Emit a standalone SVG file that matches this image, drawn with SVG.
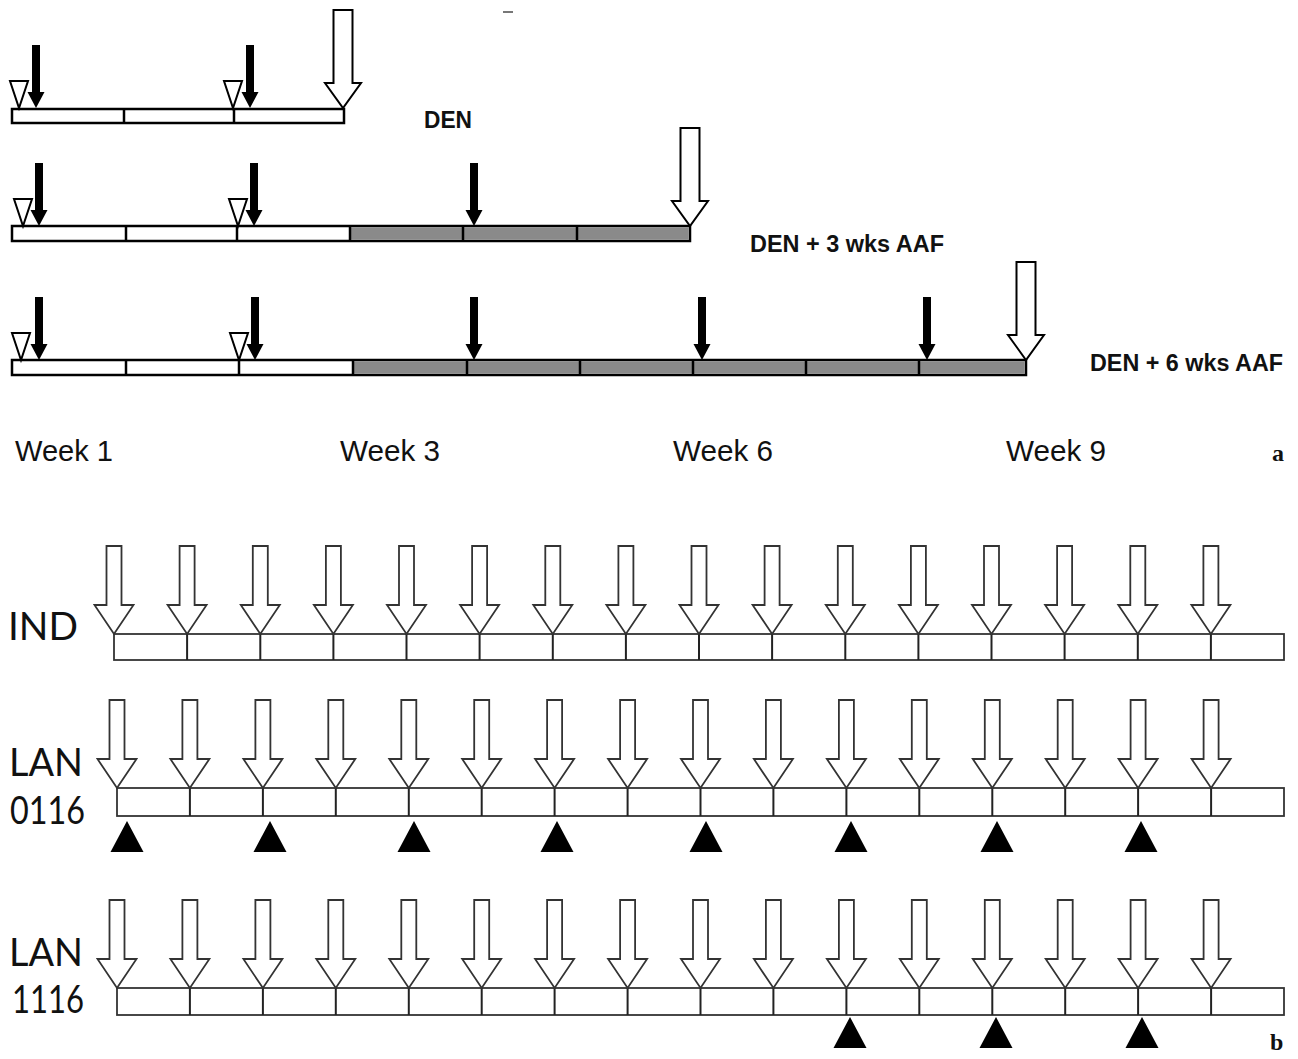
<svg xmlns="http://www.w3.org/2000/svg" xmlns:xlink="http://www.w3.org/1999/xlink" width="1298" height="1059" viewBox="0 0 1298 1059">
<style>
.barA{fill:#fff;stroke:#000;stroke-width:2.5}
.grayA{fill:#8a8a8a;stroke:none}
.divA{stroke:#000;stroke-width:2.5}
.blk{fill:#000;stroke:none}
.barB{fill:#fff;stroke:#333;stroke-width:1.8}
.divB{stroke:#222;stroke-width:2}
.arrB{fill:#fff;stroke:#333;stroke-width:1.8;stroke-linejoin:miter}
.lblA{font-family:"Liberation Sans",Arial,sans-serif;font-weight:bold;font-size:23px;fill:#111}
.week{font-family:"Liberation Sans",Arial,sans-serif;font-size:30px;fill:#111}
.lblB{font-family:Lato,"Open Sans",sans-serif;font-size:39px;fill:#111}
.pan{font-family:"Liberation Serif","Times New Roman",serif;font-weight:bold;font-size:24px;fill:#111}
</style>
<defs>
<path id="bigA" d="M-9.5,-98 H9.5 V-25 H18 L0,0 L-18,-25 H-9.5 Z" fill="#fff" stroke="#000" stroke-width="2"/>
<path id="blkA" d="M-4,-63 H4 V-16 H8.5 L0,0 L-8.5,-16 H-4 Z" fill="#000"/>
<path id="triA" d="M-9,-27 H9 L0,0 Z" fill="#fff" stroke="#000" stroke-width="2"/>
<path id="arrB" d="M-7.5,-88 H7.5 V-29 H19.5 L0,0 L-19.5,-29 H-7.5 Z" class="arrB"/>
<path id="triB" d="M0,0 L16.5,31 H-16.5 Z" fill="#000"/>
</defs>
<rect x="503" y="11" width="10" height="2" fill="#777"/>
<!-- Panel a -->
<g id="row-den">
<rect class="barA" x="12" y="109" width="332" height="14"/>
<line class="divA" x1="124" y1="109" x2="124" y2="123"/>
<line class="divA" x1="234" y1="109" x2="234" y2="123"/>
<use href="#triA" x="19" y="108"/>
<use href="#triA" x="233" y="108"/>
<use href="#blkA" x="36" y="108"/>
<use href="#blkA" x="250" y="108"/>
<use href="#bigA" x="343" y="108"/>
<text class="lblA" x="424" y="128" textLength="48" lengthAdjust="spacingAndGlyphs">DEN</text>
</g>
<g id="row-den3">
<rect class="barA" x="12" y="226" width="678" height="15"/>
<rect class="grayA" x="350" y="227.2" width="338.8" height="12.6"/>
<line class="divA" x1="126" y1="226" x2="126" y2="241"/>
<line class="divA" x1="237" y1="226" x2="237" y2="241"/>
<line class="divA" x1="350" y1="226" x2="350" y2="241"/>
<line class="divA" x1="463" y1="226" x2="463" y2="241"/>
<line class="divA" x1="577" y1="226" x2="577" y2="241"/>
<use href="#triA" x="23" y="226"/>
<use href="#triA" x="238" y="226"/>
<use href="#blkA" x="39" y="226"/>
<use href="#blkA" x="254" y="226"/>
<use href="#blkA" x="474" y="226"/>
<use href="#bigA" x="690" y="226"/>
<text class="lblA" x="750" y="252" textLength="194" lengthAdjust="spacingAndGlyphs">DEN + 3 wks AAF</text>
</g>
<g id="row-den6">
<rect class="barA" x="12" y="360" width="1014" height="15"/>
<rect class="grayA" x="353" y="361.2" width="671.8" height="12.6"/>
<line class="divA" x1="126" y1="360" x2="126" y2="375"/>
<line class="divA" x1="239" y1="360" x2="239" y2="375"/>
<line class="divA" x1="353" y1="360" x2="353" y2="375"/>
<line class="divA" x1="467" y1="360" x2="467" y2="375"/>
<line class="divA" x1="580" y1="360" x2="580" y2="375"/>
<line class="divA" x1="693" y1="360" x2="693" y2="375"/>
<line class="divA" x1="806" y1="360" x2="806" y2="375"/>
<line class="divA" x1="919" y1="360" x2="919" y2="375"/>
<use href="#triA" x="21" y="360"/>
<use href="#triA" x="239" y="360"/>
<use href="#blkA" x="39" y="360"/>
<use href="#blkA" x="255" y="360"/>
<use href="#blkA" x="474" y="360"/>
<use href="#blkA" x="702" y="360"/>
<use href="#blkA" x="927" y="360"/>
<use href="#bigA" x="1026" y="360"/>
<text class="lblA" x="1090" y="371" textLength="193" lengthAdjust="spacingAndGlyphs">DEN + 6 wks AAF</text>
</g>
<g id="weeks">
<text class="week" x="15" y="461" textLength="98" lengthAdjust="spacingAndGlyphs">Week 1</text>
<text class="week" x="340" y="461" textLength="100" lengthAdjust="spacingAndGlyphs">Week 3</text>
<text class="week" x="673" y="461" textLength="100" lengthAdjust="spacingAndGlyphs">Week 6</text>
<text class="week" x="1006" y="461" textLength="100" lengthAdjust="spacingAndGlyphs">Week 9</text>
<text class="pan" x="1272" y="461">a</text>
</g>
<!-- Panel b -->
<g id="row-ind">
<rect class="barB" x="114" y="634" width="1170" height="26"/>
<g class="divB">
<line x1="187.1" y1="634" x2="187.1" y2="660"/><line x1="260.3" y1="634" x2="260.3" y2="660"/><line x1="333.4" y1="634" x2="333.4" y2="660"/><line x1="406.5" y1="634" x2="406.5" y2="660"/><line x1="479.6" y1="634" x2="479.6" y2="660"/><line x1="552.8" y1="634" x2="552.8" y2="660"/><line x1="625.9" y1="634" x2="625.9" y2="660"/><line x1="699" y1="634" x2="699" y2="660"/><line x1="772.1" y1="634" x2="772.1" y2="660"/><line x1="845.3" y1="634" x2="845.3" y2="660"/><line x1="918.4" y1="634" x2="918.4" y2="660"/><line x1="991.5" y1="634" x2="991.5" y2="660"/><line x1="1064.6" y1="634" x2="1064.6" y2="660"/><line x1="1137.8" y1="634" x2="1137.8" y2="660"/><line x1="1210.9" y1="634" x2="1210.9" y2="660"/>
</g>
<use href="#arrB" x="114" y="634"/><use href="#arrB" x="187.1" y="634"/><use href="#arrB" x="260.3" y="634"/><use href="#arrB" x="333.4" y="634"/><use href="#arrB" x="406.5" y="634"/><use href="#arrB" x="479.6" y="634"/><use href="#arrB" x="552.8" y="634"/><use href="#arrB" x="625.9" y="634"/><use href="#arrB" x="699" y="634"/><use href="#arrB" x="772.1" y="634"/><use href="#arrB" x="845.3" y="634"/><use href="#arrB" x="918.4" y="634"/><use href="#arrB" x="991.5" y="634"/><use href="#arrB" x="1064.6" y="634"/><use href="#arrB" x="1137.8" y="634"/><use href="#arrB" x="1210.9" y="634"/>
<text class="lblB" x="8" y="640" textLength="70" lengthAdjust="spacingAndGlyphs">IND</text>
</g>
<g id="row-lan0116">
<rect class="barB" x="117" y="788" width="1167" height="28"/>
<g class="divB">
<line x1="189.9" y1="788" x2="189.9" y2="816"/><line x1="262.9" y1="788" x2="262.9" y2="816"/><line x1="335.8" y1="788" x2="335.8" y2="816"/><line x1="408.8" y1="788" x2="408.8" y2="816"/><line x1="481.7" y1="788" x2="481.7" y2="816"/><line x1="554.6" y1="788" x2="554.6" y2="816"/><line x1="627.6" y1="788" x2="627.6" y2="816"/><line x1="700.5" y1="788" x2="700.5" y2="816"/><line x1="773.4" y1="788" x2="773.4" y2="816"/><line x1="846.4" y1="788" x2="846.4" y2="816"/><line x1="919.3" y1="788" x2="919.3" y2="816"/><line x1="992.3" y1="788" x2="992.3" y2="816"/><line x1="1065.2" y1="788" x2="1065.2" y2="816"/><line x1="1138.1" y1="788" x2="1138.1" y2="816"/><line x1="1211.1" y1="788" x2="1211.1" y2="816"/>
</g>
<use href="#arrB" x="117" y="788"/><use href="#arrB" x="189.9" y="788"/><use href="#arrB" x="262.9" y="788"/><use href="#arrB" x="335.8" y="788"/><use href="#arrB" x="408.8" y="788"/><use href="#arrB" x="481.7" y="788"/><use href="#arrB" x="554.6" y="788"/><use href="#arrB" x="627.6" y="788"/><use href="#arrB" x="700.5" y="788"/><use href="#arrB" x="773.4" y="788"/><use href="#arrB" x="846.4" y="788"/><use href="#arrB" x="919.3" y="788"/><use href="#arrB" x="992.3" y="788"/><use href="#arrB" x="1065.2" y="788"/><use href="#arrB" x="1138.1" y="788"/><use href="#arrB" x="1211.1" y="788"/>
<use href="#triB" x="127" y="821"/><use href="#triB" x="270" y="821"/><use href="#triB" x="414" y="821"/><use href="#triB" x="557" y="821"/><use href="#triB" x="706" y="821"/><use href="#triB" x="851" y="821"/><use href="#triB" x="997" y="821"/><use href="#triB" x="1141" y="821"/>
<text class="lblB" x="9" y="776" textLength="74" lengthAdjust="spacingAndGlyphs">LAN</text>
<text class="lblB" x="10" y="824" textLength="75" lengthAdjust="spacingAndGlyphs">0116</text>
</g>
<g id="row-lan1116">
<rect class="barB" x="117" y="988" width="1167" height="27"/>
<g class="divB">
<line x1="189.9" y1="988" x2="189.9" y2="1015"/><line x1="262.9" y1="988" x2="262.9" y2="1015"/><line x1="335.8" y1="988" x2="335.8" y2="1015"/><line x1="408.8" y1="988" x2="408.8" y2="1015"/><line x1="481.7" y1="988" x2="481.7" y2="1015"/><line x1="554.6" y1="988" x2="554.6" y2="1015"/><line x1="627.6" y1="988" x2="627.6" y2="1015"/><line x1="700.5" y1="988" x2="700.5" y2="1015"/><line x1="773.4" y1="988" x2="773.4" y2="1015"/><line x1="846.4" y1="988" x2="846.4" y2="1015"/><line x1="919.3" y1="988" x2="919.3" y2="1015"/><line x1="992.3" y1="988" x2="992.3" y2="1015"/><line x1="1065.2" y1="988" x2="1065.2" y2="1015"/><line x1="1138.1" y1="988" x2="1138.1" y2="1015"/><line x1="1211.1" y1="988" x2="1211.1" y2="1015"/>
</g>
<use href="#arrB" x="117" y="988"/><use href="#arrB" x="189.9" y="988"/><use href="#arrB" x="262.9" y="988"/><use href="#arrB" x="335.8" y="988"/><use href="#arrB" x="408.8" y="988"/><use href="#arrB" x="481.7" y="988"/><use href="#arrB" x="554.6" y="988"/><use href="#arrB" x="627.6" y="988"/><use href="#arrB" x="700.5" y="988"/><use href="#arrB" x="773.4" y="988"/><use href="#arrB" x="846.4" y="988"/><use href="#arrB" x="919.3" y="988"/><use href="#arrB" x="992.3" y="988"/><use href="#arrB" x="1065.2" y="988"/><use href="#arrB" x="1138.1" y="988"/><use href="#arrB" x="1211.1" y="988"/>
<use href="#triB" x="850" y="1017"/><use href="#triB" x="996" y="1017"/><use href="#triB" x="1142" y="1017"/>
<text class="lblB" x="9" y="966" textLength="74" lengthAdjust="spacingAndGlyphs">LAN</text>
<text class="lblB" x="12" y="1013" textLength="72" lengthAdjust="spacingAndGlyphs">1116</text>
<text class="pan" x="1270" y="1050">b</text>
</g>
</svg>
